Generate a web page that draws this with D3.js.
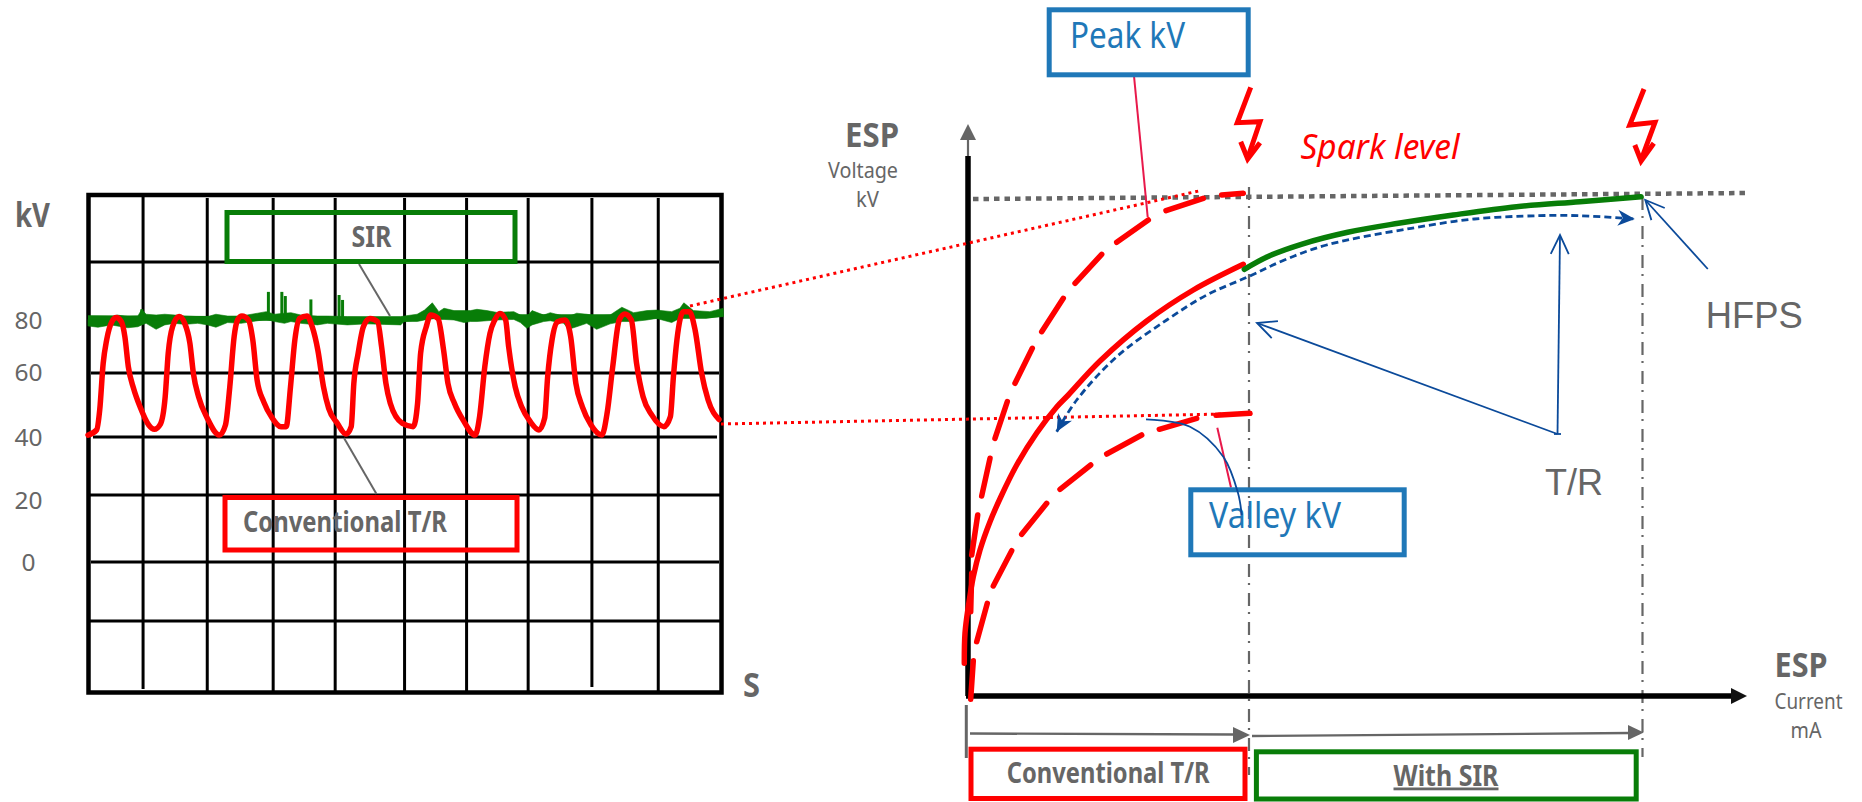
<!DOCTYPE html>
<html><head><meta charset="utf-8">
<script src="https://cdn.jsdelivr.net/npm/d3@7/dist/d3.min.js"></script>
<style>html,body{margin:0;padding:0;background:#fff;overflow:hidden}svg{display:block}</style>
</head><body><div id="chart"></div>
<script>
// ---------- left panel: oscillogram ----------
const kvTicks = [0, 20, 40, 60, 80];
const gridTimes = [192, 340, 492, 635, 795, 938, 1080, 1227, 1380];
const redTime = [65,85,92,100,108,120,130,142,150,158,170,185,205,218,232,243,250,260,275,288,300,308,320,340,368,382,392,402,410,420,435,445,455,470,490,510,522,532,542,553,570,582,595,608,620,640,660,672,678,688,700,715,733,742,752,762,790,815,825,832,845,855,872,885,895,910,930,958,968,980,992,1003,1015,1028,1035,1050,1065,1085,1105,1118,1125,1135,1148,1165,1178,1190,1205,1225,1250,1262,1275,1290,1303,1318,1330,1345,1365,1393,1408,1415,1423,1438,1452,1465,1480,1495,1520];
const redKv = [40.9,42.5,48.6,63.7,72.7,79.7,81.3,79.7,74,62.4,55.3,49.6,44,42.7,44.3,52.7,67.6,77.8,81.7,79.1,71.4,59.9,52.7,46.1,40.9,44,55.8,74,80.4,81.9,80.4,72.7,57.8,51.2,46.1,43.5,43.5,55.8,72.7,81,81.9,77.8,68.8,55.8,49.1,44.5,41.2,43.5,56.8,67.6,77.8,81,79.7,70.1,56.8,50.7,44.5,43.5,50.7,67.6,77.8,82.3,81,68.8,56.8,50.7,45.5,40.9,46.6,62.4,75.3,80.4,82.9,80.4,70.1,55.8,49.6,45,42.5,46.1,58.9,72.7,79.7,80.4,74,56.8,49.6,44,40.9,47.6,62.4,80.4,82.7,80.4,63.7,52.7,47.1,43.5,46.6,58.9,72.7,83.6,83.6,76.5,59.9,51.7,45.7];
const sirTime = [65,88,119,132,157,180,189,199,222,242,265,288,318,341,360,387,418,456,476,495,518,533,556,594,617,663,709,748,786,794,824,841,859,874,886,909,932,947,962,985,1008,1047,1062,1077,1089,1116,1131,1162,1173,1192,1215,1238,1269,1296,1323,1354,1376,1411,1430,1439,1461,1499,1530];
const sirHigh = [80.6,81.4,81.3,82.3,81.7,81.9,84.5,82.6,82.3,82.6,82.3,81.9,81.7,81.7,82.6,81.9,81.9,83,83.6,82.6,83,83.2,82.3,81.9,81.9,81.7,81.7,81.7,81.7,81.9,82.6,84.2,87,83.6,84.9,84,84,84,84.5,84,83.3,83.6,82.3,81.7,84,82.3,83.2,81.9,81.7,83,82.6,81.9,82.3,85.3,83.2,84,84.2,83.6,84.9,87,84,83.6,84.9];
const sirLow = [78.1,77.6,78.5,78.1,77.4,77.8,78.5,79.1,76.8,78.5,79.1,78.7,79.1,78.5,77.6,79.4,79.1,80.1,80.6,79.8,79.1,79.8,79.1,78.5,79.1,78.5,78.9,78.7,78.5,79.8,79.8,80.4,81.4,80.6,80.6,80.4,79.4,79.8,79.8,80.1,80.4,80.6,79.4,77.2,78.5,79.8,80.1,79.1,76.8,77.8,79.1,76.8,78.9,79.8,79.8,80.4,81,79.4,81,81.4,81.4,81.4,81.7];
const sirBaseTime = [65,786,794,871,1490,1530];
const sirBaseKv = [81.3,80.6,80.6,81.7,81.7,82.6];
const sirSpikeTime = [189,481,512,520,579,644,652];
const sirSpikeKv = [84.5,91.2,91.2,89.6,88.3,90,88.1];

// ---------- right panel: ESP voltage vs. current ----------
const peakDashes = [[[2.7,84.3],[3.7,122.7]],[[3.7,141],[9.7,181]],[[13.7,200],[22,237.7]],[[27,257.7],[39.3,294.3]],[[47,312.7],[64.3,347.7]],[[73.7,364.3],[95.3,397.7]],[[107,412.7],[133.7,441.7]],[[148.7,453.7],[180.3,476]],[[198,485.3],[235.3,497.7]],[[253.7,501],[275.3,502.7]]];
const valleyDashes = [[[2.7,-3.3],[5.3,35.3]],[[8.7,54.3],[19.3,92.7]],[[25.3,110],[43.7,145.3]],[[53.7,161.7],[78.7,192.7]],[[92,206.7],[122.7,231]],[[138.7,242],[173.7,261]],[[191.3,266.7],[228.7,277.7]],[[248,280.7],[282,282.7]]];
const meanCurrent = [-3.7,-3,0.3,5.3,12,22,33.7,48.7,68.7,88.7,100.3,132,178.7,225.3,275.3];
const meanVoltage = [32.7,62.7,89.3,119.3,146,174.3,201,231,263,289,301,335,375,406,431.7];
const sirCurrent = [276.3,299.5,333.3,379.7,430.4,485.3,548.6,611.9,673.1];
const sirVoltage = [426.7,439.3,451.7,463.7,472.7,481,489.3,494.3,499.3];
const trCurrent = [88.7,108.7,148.7,198.7,238.7,280.3,316.4,358.6,443.1,506.4,569.7,611.9,666.8];
const trVoltage = [264.3,296,339.3,376,401,419.3,436,451,467.7,477,480.3,480.3,477];

const INK = "#666666", RED = "#ff0000", GREEN = "#087d08", BOX = "#1f78b8", NAVY = "#0b4a9a", PINK = "#e8194b";
const COND = "'Noto Sans',Roboto,sans-serif";

const svg = d3.select("#chart").append("svg").attr("width", 1862).attr("height", 802);
const defs = svg.append("defs");
defs.append("marker").attr("id","solidHead").attr("markerUnits","userSpaceOnUse")
  .attr("viewBox","-18 -9 20 18").attr("markerWidth",20).attr("markerHeight",18).attr("orient","auto-start-reverse")
  .append("path").attr("d","M0,0 L-17,-8 L-12,0 L-17,8 Z").attr("fill",NAVY);
defs.append("marker").attr("id","openHead").attr("markerUnits","userSpaceOnUse")
  .attr("viewBox","-22 -12 24 24").attr("markerWidth",24).attr("markerHeight",24).attr("orient","auto")
  .append("path").attr("d","M-19,-9 L0,0 L-19,9").attr("fill","none").attr("stroke",NAVY).attr("stroke-width",1.8);

function label(t, x, y, width, size, o = {}) {
  const e = svg.append("text").attr("x", x).attr("y", y).text(t)
    .attr("font-family", o.family || COND).attr("font-size", size)
    .attr("font-weight", o.weight || 400).attr("fill", o.fill || INK);
  if (o.style) e.attr("font-style", o.style);
  if (width) e.attr("textLength", width).attr("lengthAdjust", "spacingAndGlyphs");
  return e;
}
function seg(p, color, w, o = {}) {
  const e = svg.append("path").attr("d", d3.line()(p)).attr("fill","none").attr("stroke",color).attr("stroke-width",w);
  if (o.dash) e.attr("stroke-dasharray", o.dash);
  if (o.cap) e.attr("stroke-linecap", o.cap);
  if (o.join) e.attr("stroke-linejoin", o.join);
  if (o.end) e.attr("marker-end", `url(#${o.end})`);
  return e;
}

// ---- left panel ----
const tX = d3.scaleLinear().domain([65, 1527]).range([88, 722]);
const kvY = d3.scaleLinear().domain([0, 20, 40, 60, 80]).range([562.5, 500.5, 438, 373, 321]);

// grid
[[262,90,719],[373,91,719],[437,93,717],[495,90,722],[562,91,719],[621,90,722]]
  .forEach(([y,a,b]) => seg([[a,y],[b,y]], "#000", 3));
gridTimes.forEach((t,i) => {
  const bot = (i === 0) ? 689 : (i === 7 ? 687 : 692);
  const top = (i === 0) ? 197 : 198;
  seg([[tX(t), top],[tX(t), bot]], "#000", 3);
});
svg.append("rect").attr("x",88.5).attr("y",195).attr("width",633).attr("height",497.5)
  .attr("fill","none").attr("stroke","#000").attr("stroke-width",4.5);

label("kV", 15, 227, 35, 34, {weight:700});
kvTicks.forEach(v => label(String(v), 28.5, kvY(v) + 8, v ? 28 : 14, 23).attr("text-anchor","middle"));
label("S", 743, 697, 17, 34, {weight:700});

// SIR trace
const sirIdx = d3.range(sirTime.length);
svg.append("path").attr("fill",GREEN).attr("stroke",GREEN).attr("stroke-width",0.6)
  .attr("d", d3.area().x(i=>tX(sirTime[i])).y0(i=>kvY(sirLow[i])).y1(i=>kvY(sirHigh[i]))(sirIdx));
svg.append("path").attr("fill","none").attr("stroke",GREEN).attr("stroke-width",4.5)
  .attr("d", d3.line().x(i=>tX(sirBaseTime[i])).y(i=>kvY(sirBaseKv[i]))(d3.range(sirBaseTime.length)));
sirSpikeTime.forEach((t,i)=> seg([[tX(t),kvY(sirSpikeKv[i])],[tX(t),kvY(81)]], GREEN, 3));

// T/R trace
svg.append("path").attr("fill","none").attr("stroke",RED).attr("stroke-width",5.5).attr("stroke-linejoin","round").attr("stroke-linecap","round")
  .attr("d", d3.line().curve(d3.curveMonotoneX).x(i=>tX(redTime[i])).y(i=>kvY(redKv[i]))(d3.range(redTime.length)));

// callouts left
seg([[359,264],[390,316]], INK, 2);
seg([[344,438],[376.5,494]], INK, 2);
svg.append("rect").attr("x",227).attr("y",212.5).attr("width",288).attr("height",49).attr("fill","none").attr("stroke",GREEN).attr("stroke-width",5);
label("SIR", 351.5, 247, 40, 29, {weight:700});
svg.append("rect").attr("x",225).attr("y",497.5).attr("width",292).attr("height",52.5).attr("fill","none").attr("stroke",RED).attr("stroke-width",5);
label("Conventional T/R", 243, 532, 204, 28, {weight:700});

// ---- right panel ----
const cX = d3.scaleLinear().domain([0, 676]).range([968, 1644]);
const vY = d3.scaleLinear().domain([0, 500]).range([696, 196]);
const pt = d => [cX(d[0]), vY(d[1])];

// dash-dot guides
const dd = "13 6 2 8";
seg([[1249,187],[1249,775]], INK, 2.2, {dash:dd});
seg([[1642.5,197],[1642.5,757]], INK, 2.2, {dash:dd});

// spark level line
seg([[973,199],[1747,193]], INK, 4.5, {dash:"5.5 5"});

// axes
seg([[968,156],[968,696]], "#000", 5.5);
seg([[968,156],[968,138]], INK, 2.2);
svg.append("path").attr("d", d3.line()([[968,124],[960,140],[976,140]])).attr("fill",INK);
seg([[966,696],[1735,696]], "#000", 5.5);
svg.append("path").attr("d", d3.line()([[1747,696],[1731,688],[1731,704]])).attr("fill","#111");

label("ESP", 845, 147, 54, 34, {weight:700});
label("Voltage", 828, 178, 70, 22);
label("kV", 856, 207, 23, 22);
label("ESP", 1774.5, 677, 53, 34, {weight:700});
label("Current", 1774.5, 709, 68, 22);
label("mA", 1790.5, 738, 31, 22);

// connector dots
seg([[690,306],[1200,190.7]], RED, 3, {dash:"3 4"});
seg([[721,424],[1250,413.5]], RED, 3, {dash:"3 4"});

// curves
const redOpt = {cap:"round"};
peakDashes.forEach(d => seg(d.map(pt), RED, 5.5, redOpt));
valleyDashes.forEach(d => seg(d.map(pt), RED, 5.5, redOpt));
svg.append("path").attr("fill","none").attr("stroke",RED).attr("stroke-width",5.5).attr("stroke-linecap","round")
  .attr("d", d3.line().curve(d3.curveCatmullRom).x(i=>cX(meanCurrent[i])).y(i=>vY(meanVoltage[i]))(d3.range(meanCurrent.length)));
svg.append("path").attr("fill","none").attr("stroke",NAVY).attr("stroke-width",2.8).attr("stroke-dasharray","7 4")
  .attr("marker-start","url(#solidHead)").attr("marker-end","url(#solidHead)")
  .attr("d", d3.line().curve(d3.curveCatmullRom).x(i=>cX(trCurrent[i])).y(i=>vY(trVoltage[i]))(d3.range(trCurrent.length)));
svg.append("path").attr("fill","none").attr("stroke",GREEN).attr("stroke-width",5.5).attr("stroke-linecap","round")
  .attr("d", d3.line().curve(d3.curveCatmullRom).x(i=>cX(sirCurrent[i])).y(i=>vY(sirVoltage[i]))(d3.range(sirCurrent.length)));

// spark bolts
const boltOpt = {join:"miter"};
seg([[1250.7,87.3],[1237.3,122.7],[1260,121.7],[1247.7,158]], RED, 5, boltOpt);
seg([[1240.7,141.7],[1247.7,159],[1260,142.7]], RED, 5, boltOpt);
seg([[1644,89],[1629.7,125],[1655,122.3],[1641.1,160]], RED, 5, boltOpt);
seg([[1634.8,145],[1641.1,161],[1653.8,143.3]], RED, 5, boltOpt);
label("Spark level", 1300.5, 159, 159, 34, {fill:RED, style:"italic"});

// thin arrows
seg([[1557.5,434],[1257,323]], NAVY, 1.8, {end:"openHead"});
seg([[1557.5,434],[1560,235]], NAVY, 1.8, {end:"openHead"});
seg([[1554,434],[1561,434]], NAVY, 1.8);
seg([[1707.8,269],[1645.3,200]], NAVY, 1.8, {end:"openHead"});
label("HFPS", 1705.7, 328, 97, 36, {family:"'Liberation Sans',sans-serif"});
label("T/R", 1545, 495, 58, 36, {family:"'Liberation Sans',sans-serif"});

// peak / valley callouts
seg([[1134,76],[1147.7,217]], PINK, 2);
seg([[1217.3,427.7],[1231,487.5]], PINK, 2);
svg.append("rect").attr("x",1049.2).attr("y",9.8).attr("width",199).attr("height",65).attr("fill","none").attr("stroke",BOX).attr("stroke-width",5);
label("Peak kV", 1070, 48, 115, 37, {fill:BOX});
svg.append("rect").attr("x",1190.8).attr("y",489.8).attr("width",213.4).attr("height",65).attr("fill","none").attr("stroke",BOX).attr("stroke-width",5);
label("Valley kV", 1209, 528, 132, 37, {fill:BOX});
svg.append("path").attr("fill","none").attr("stroke",NAVY).attr("stroke-width",1.8)
  .attr("d", d3.line().curve(d3.curveCatmullRom)([[1146,419.3],[1190,426.7],[1223.3,456.7],[1238,493],[1241.7,515]]));

// range arrows and boxes
seg([[966.3,705],[966.3,758]], INK, 3);
seg([[970,733.5],[1235,734.5]], INK, 2.4);
svg.append("path").attr("d", d3.line()([[1250,735],[1233,727],[1233,743]])).attr("fill",INK);
seg([[1252,736],[1630,733]], INK, 2.4);
svg.append("path").attr("d", d3.line()([[1643.8,732.5],[1628,725],[1628,740]])).attr("fill",INK);
svg.append("rect").attr("x",971).attr("y",749.2).attr("width",274).attr("height",49.3).attr("fill","none").attr("stroke",RED).attr("stroke-width",5);
label("Conventional T/R", 1006.7, 783, 203, 28, {weight:700});
svg.append("rect").attr("x",1256.4).attr("y",751.8).attr("width",379.8).attr("height",47.2).attr("fill","none").attr("stroke",GREEN).attr("stroke-width",5);
label("With SIR", 1393.5, 785.5, 105, 28, {weight:700}).attr("text-decoration","underline");
</script></body></html>
